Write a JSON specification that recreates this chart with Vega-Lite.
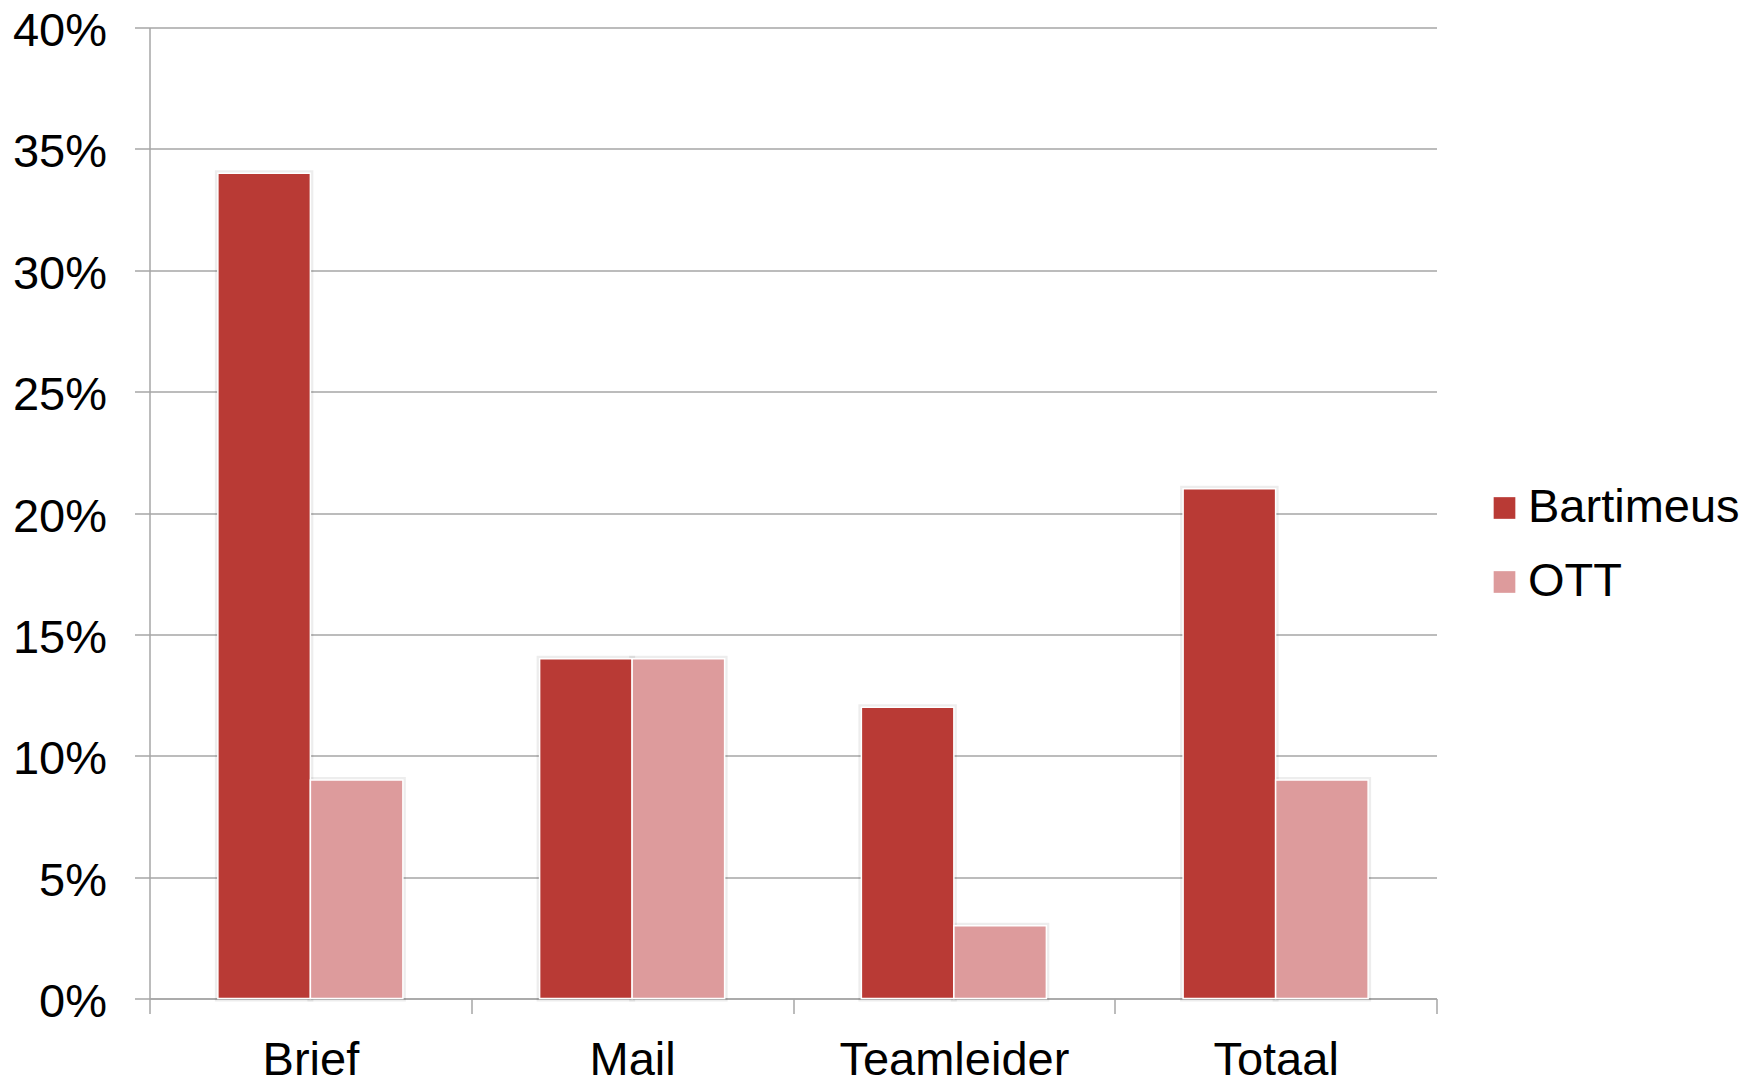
{
  "$schema": "https://vega.github.io/schema/vega-lite/v6.json",
  "autosize": {"type": "none"},
  "width": 1287,
  "height": 971,
  "padding": {"left": 149.5, "top": 27.5, "right": 323.5, "bottom": 81.5},
  "background": "white",
  "config": {
    "view": {"stroke": null},
    "font": "Liberation Sans, Arial, Helvetica, sans-serif"
  },
  "data": {
    "values": [
      {"categorie": "Brief", "groep": "Bartimeus", "aandeel": 0.34},
      {"categorie": "Brief", "groep": "OTT", "aandeel": 0.09},
      {"categorie": "Mail", "groep": "Bartimeus", "aandeel": 0.14},
      {"categorie": "Mail", "groep": "OTT", "aandeel": 0.14},
      {"categorie": "Teamleider", "groep": "Bartimeus", "aandeel": 0.12},
      {"categorie": "Teamleider", "groep": "OTT", "aandeel": 0.03},
      {"categorie": "Totaal", "groep": "Bartimeus", "aandeel": 0.21},
      {"categorie": "Totaal", "groep": "OTT", "aandeel": 0.09}
    ]
  },
  "encoding": {
    "x": {
      "field": "categorie",
      "type": "nominal",
      "sort": ["Brief", "Mail", "Teamleider", "Totaal"],
      "scale": {"paddingInner": 0, "paddingOuter": 0},
      "axis": {
        "title": null,
        "labelAngle": 0,
        "labelLimit": 0,
        "tickBand": "extent",
        "grid": false,
        "domainColor": "#a6a6a6",
        "domainWidth": 1.5,
        "tickColor": "#a6a6a6",
        "tickWidth": 1.5,
        "tickSize": 15,
        "labelFontSize": 47,
        "labelColor": "#000000",
        "labelPadding": 24
      }
    },
    "xOffset": {
      "field": "groep",
      "type": "nominal",
      "scale": {"paddingInner": 0, "paddingOuter": 0.739}
    },
    "y": {
      "field": "aandeel",
      "type": "quantitative",
      "scale": {"domain": [0, 0.4], "nice": false},
      "axis": {
        "title": null,
        "values": [0, 0.05, 0.1, 0.15, 0.2, 0.25, 0.3, 0.35, 0.4],
        "format": ".0%",
        "grid": true,
        "gridColor": "#a6a6a6",
        "gridWidth": 1.5,
        "domainColor": "#a6a6a6",
        "domainWidth": 1.5,
        "tickColor": "#a6a6a6",
        "tickWidth": 1.5,
        "tickSize": 15,
        "labelFontSize": 47,
        "labelColor": "#000000",
        "labelPadding": 28,
        "labelOffset": 4
      }
    }
  },
  "layer": [
    {
      "description": "soft shadow halo under each bar",
      "mark": {"type": "bar", "fill": null, "stroke": "#000000", "strokeWidth": 6, "strokeOpacity": 0.07}
    },
    {
      "mark": {"type": "bar", "stroke": "white", "strokeWidth": 1.5},
      "encoding": {
        "color": {
          "field": "groep",
          "type": "nominal",
          "scale": {"domain": ["Bartimeus", "OTT"], "range": ["#b93a35", "#dd9b9c"]},
          "legend": {
            "title": null,
            "orient": "none",
            "legendX": 1331.5,
            "legendY": 457,
            "symbolType": "square",
            "symbolSize": 470,
            "symbolStrokeWidth": 0,
            "labelFontSize": 47,
            "labelColor": "#000000",
            "labelLimit": 0,
            "labelOffset": 0,
            "rowPadding": 26,
            "padding": 0
          }
        }
      }
    }
  ]
}
